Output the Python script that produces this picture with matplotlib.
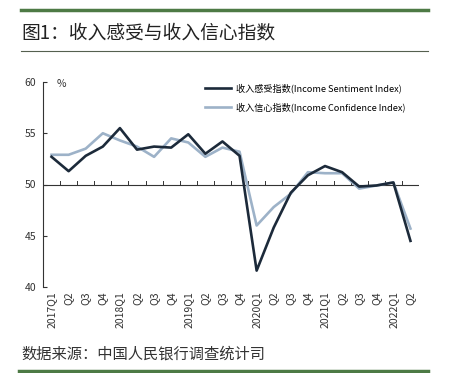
import numpy as np
import matplotlib.pyplot as plt
from matplotlib.lines import Line2D

plt.rcParams['font.family'] = ['Noto Sans CJK SC', 'DejaVu Sans']

quarters = ['2017Q1', 'Q2', 'Q3', 'Q4', '2018Q1', 'Q2', 'Q3', 'Q4',
            '2019Q1', 'Q2', 'Q3', 'Q4', '2020Q1', 'Q2', 'Q3', 'Q4',
            '2021Q1', 'Q2', 'Q3', 'Q4', '2022Q1', 'Q2']
sentiment = [52.7, 51.3, 52.8, 53.7, 55.5, 53.4, 53.7, 53.6,
             54.9, 53.0, 54.2, 52.8, 41.6, 45.8, 49.2, 50.9,
             51.8, 51.2, 49.8, 49.9, 50.2, 44.5]
confidence = [52.9, 52.9, 53.5, 55.0, 54.3, 53.7, 52.7, 54.5,
              54.1, 52.7, 53.6, 53.2, 46.0, 47.8, 49.1, 51.2,
              51.1, 51.1, 49.6, 49.9, 50.2, 45.7]
labels = ['收入感受指数(Income Sentiment Index)', '收入信心指数(Income Confidence Index)']

dark = '#1c2a3a'
light = '#9db2c8'
green = '#4d7a45'

fig = plt.figure(figsize=(4.49, 3.73), dpi=100)

# header / footer decorations
fig.add_artist(Line2D([21/449, 428/449], [1-10/373, 1-10/373], color=green, lw=2.5))
fig.add_artist(Line2D([21/449, 428/449], [1-51/373, 1-51/373], color='#55604f', lw=0.8))
fig.add_artist(Line2D([19/449, 428/449], [1-371/373, 1-371/373], color=green, lw=2.5))
fig.text(21/449, 1-33/373, '图1：收入感受与收入信心指数', fontsize=13.5, va='center', color='#222222')
fig.text(21/449, 1-354/373, '数据来源：中国人民银行调查统计司', fontsize=11, va='center', color='#333333')

ax = fig.add_axes([43/449, 1-287/373, (419-43)/449, (287-82)/373])
x = np.arange(len(quarters)) + 0.5
ax.plot(x, sentiment, color=dark, lw=1.9, label=labels[0], zorder=3)
ax.plot(x, confidence, color=light, lw=1.9, label=labels[1], zorder=2)

ax.set_xlim(0, len(quarters))
ax.set_ylim(40, 60)
ax.set_yticks([40, 45, 50, 55, 60])
ax.tick_params(axis='y', direction='in', length=3, labelsize=7.5, colors='#333333', pad=5)
ax.set_xticks(x)
ax.set_xticklabels(quarters, rotation=90, fontsize=7.5, color='#333333')
ax.tick_params(axis='x', length=0, pad=3)

for s in ['top', 'right', 'bottom']:
    ax.spines[s].set_visible(False)
ax.spines['left'].set_color('#333333')
ax.spines['left'].set_linewidth(0.8)

# category axis drawn at 50 with upward ticks at boundaries
ax.axhline(50, color='#333333', lw=0.8, zorder=1)
for b in range(1, len(quarters) + 1):
    ax.plot([b, b], [50, 50.35], color='#333333', lw=0.7, zorder=1)

ax.text(1.1, 59.8, '%', fontsize=7.5, va='center', ha='center', color='#333333')

ax.legend(loc='upper left', bbox_to_anchor=(0.41, 1.035), frameon=False,
          fontsize=6.6, handlelength=2.8, labelspacing=1.0, handletextpad=0.5)

fig.savefig('out.png', dpi=100, facecolor='white')
